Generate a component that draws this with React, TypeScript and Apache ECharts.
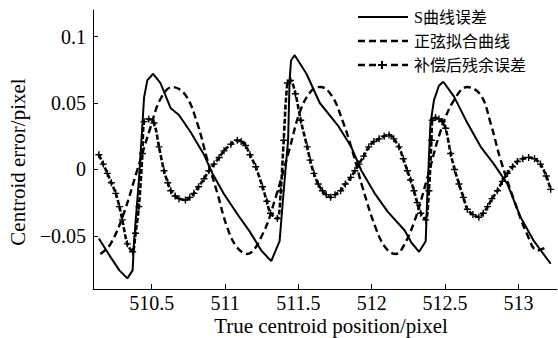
import React, { useEffect, useRef } from "react";
import * as echarts from "echarts";

const xTicks = [510.5, 511, 511.5, 512, 512.5, 513];
const yTicks = [-0.05, 0, 0.05, 0.1];
const legendNames = ["S曲线误差", "正弦拟合曲线", "补偿后残余误差"];

const sX = [510.14, 510.22, 510.28, 510.334, 510.37, 510.38, 510.413, 510.437, 510.448, 510.47, 510.51, 510.56, 510.63, 510.686, 510.766, 510.857, 510.914, 510.99, 511.08, 511.17, 511.247, 511.315, 511.372, 511.4, 511.43, 511.44, 511.45, 511.475, 511.555, 511.646, 511.77, 511.86, 511.93, 512.02, 512.11, 512.225, 512.27, 512.323, 512.368, 512.38, 512.4, 512.424, 512.458, 512.488, 512.56, 512.652, 512.743, 512.833, 512.925, 513.015, 513.106, 513.22];
const sY = [-0.052, -0.066, -0.076, -0.082, -0.076, -0.054, -0.008, 0.034, 0.054, 0.067, 0.072, 0.065, 0.046, 0.041, 0.028, 0.011, -0.003, -0.018, -0.033, -0.047, -0.061, -0.069, -0.054, -0.016, 0.022, 0.067, 0.082, 0.086, 0.072, 0.05, 0.033, 0.017, -0.001, -0.018, -0.032, -0.046, -0.055, -0.062, -0.054, -0.016, 0.034, 0.052, 0.063, 0.066, 0.055, 0.035, 0.017, 0.004, -0.011, -0.036, -0.054, -0.071];

const fX = [510.15, 510.22, 510.31, 510.4, 510.493, 510.56, 510.64, 510.73, 510.81, 510.88, 510.948, 511.016, 511.084, 511.15, 511.255, 511.345, 511.436, 511.516, 511.595, 511.652, 511.73, 511.8, 511.868, 511.936, 512.027, 512.095, 512.163, 512.2, 512.288, 512.38, 512.47, 512.56, 512.652, 512.743, 512.81, 512.879, 512.97, 513.06, 513.13, 513.2];
const fY = [-0.0636, -0.056, -0.033, -0.001, 0.032, 0.053, 0.062, 0.056, 0.035, 0.007, -0.018, -0.044, -0.059, -0.0636, -0.049, -0.021, 0.014, 0.045, 0.06, 0.062, 0.055, 0.037, 0.014, -0.013, -0.044, -0.059, -0.0636, -0.061, -0.04, -0.006, 0.029, 0.052, 0.062, 0.056, 0.035, 0.007, -0.023, -0.049, -0.061, -0.058];

const rX = [510.14, 510.17, 510.198, 510.225, 510.255, 510.28, 510.3, 510.334, 510.37, 510.39, 510.413, 510.437, 510.448, 510.48, 510.516, 510.55, 510.584, 510.61, 510.63, 510.66, 510.686, 510.73, 510.76, 510.788, 510.82, 510.857, 510.89, 510.925, 510.96, 510.993, 511.04, 511.084, 511.11, 511.14, 511.17, 511.209, 511.255, 511.285, 511.31, 511.357, 511.38, 511.4, 511.425, 511.447, 511.48, 511.516, 511.56, 511.58, 511.606, 511.635, 511.664, 511.69, 511.72, 511.75, 511.788, 511.82, 511.857, 511.885, 511.913, 511.945, 511.98, 512.015, 512.05, 512.085, 512.118, 512.15, 512.186, 512.215, 512.243, 512.265, 512.288, 512.31, 512.334, 512.368, 512.39, 512.407, 512.413, 512.435, 512.458, 512.48, 512.504, 512.538, 512.565, 512.595, 512.625, 512.652, 512.69, 512.73, 512.76, 512.79, 512.82, 512.857, 512.89, 512.925, 512.96, 512.993, 513.03, 513.07, 513.11, 513.15, 513.19, 513.22];
const rY = [0.011, 0.004, -0.003, -0.01, -0.018, -0.028, -0.038, -0.056, -0.062, -0.048, -0.028, 0.012, 0.036, 0.038, 0.035, 0.017, -0.001, -0.01, -0.016, -0.02, -0.022, -0.023, -0.021, -0.018, -0.013, -0.007, -0.001, 0.004, 0.009, 0.014, 0.019, 0.022, 0.021, 0.018, 0.011, 0.002, -0.013, -0.024, -0.033, -0.037, -0.016, 0.022, 0.065, 0.067, 0.057, 0.037, 0.017, 0.007, -0.003, -0.011, -0.016, -0.019, -0.021, -0.019, -0.016, -0.011, -0.006, -0.001, 0.004, 0.01, 0.017, 0.021, 0.023, 0.025, 0.026, 0.023, 0.017, 0.008, -0.001, -0.008, -0.016, -0.025, -0.033, -0.038, -0.016, 0.022, 0.037, 0.039, 0.038, 0.036, 0.031, 0.012, 0.0, -0.011, -0.021, -0.03, -0.034, -0.036, -0.033, -0.028, -0.022, -0.016, -0.009, -0.003, 0.002, 0.006, 0.008, 0.009, 0.008, 0.004, -0.005, -0.015];

const pair = (xs: number[], ys: number[]) => xs.map((x, i) => [x, ys[i]]);

const SERIF = "'Liberation Serif', 'Times New Roman', serif";
const CJK = "'Liberation Serif', 'Noto Sans CJK SC', serif";
const PLUS = "path://M4,0H6V4H10V6H6V10H4V6H0V4H4Z";

const legendRow = (y: number, kind: number, label: string) => {
  const els: any[] = [];
  if (kind === 0) {
    els.push({ type: "line", shape: { x1: 358, y1: y, x2: 408, y2: y }, style: { stroke: "#000", lineWidth: 2.2 } });
  } else {
    els.push({
      type: "line",
      shape: { x1: 358, y1: y, x2: 408, y2: y },
      style: { stroke: "#000", lineWidth: 2.4, lineDash: [7, 4] },
    });
  }
  if (kind === 2) {
    els.push({ type: "rect", shape: { x: 378, y: y - 3.5, width: 8, height: 7 }, style: { fill: "#fff" } });
    els.push({ type: "line", shape: { x1: 378, y1: y, x2: 386, y2: y }, style: { stroke: "#000", lineWidth: 2 } });
    els.push({ type: "line", shape: { x1: 382, y1: y - 4, x2: 382, y2: y + 4 }, style: { stroke: "#000", lineWidth: 2 } });
  }
  els.push({
    type: "text",
    x: 414,
    y,
    style: { text: label, fontSize: 16, fontFamily: CJK, fill: "#000", verticalAlign: "middle", align: "left" },
  });
  return els;
};

export default function App() {
  const ref = useRef<HTMLDivElement>(null);
  useEffect(() => {
    if (!ref.current) return;
    const chart = echarts.init(ref.current, undefined, { renderer: "svg" });
    chart.setOption({
      animation: false,
      backgroundColor: "#fff",
      textStyle: { fontFamily: SERIF },
      grid: { left: 93, right: 1, top: 10, bottom: 49, containLabel: false },
      xAxis: {
        type: "value",
        min: 510.1,
        max: 513.263,
        axisLine: { onZero: false, lineStyle: { color: "#000", width: 1 } },
        axisTick: { inside: true, length: 5, lineStyle: { color: "#000" }, customValues: xTicks },
        axisLabel: {
          customValues: xTicks,
          color: "#000",
          fontSize: 20,
          fontFamily: SERIF,
          margin: 4,
          formatter: (v: number) => String(v),
        },
        splitLine: { show: false },
      },
      yAxis: {
        type: "value",
        min: -0.09,
        max: 0.12,
        axisLine: { show: true, onZero: false, lineStyle: { color: "#000", width: 1 } },
        axisTick: { show: true, inside: true, length: 5, lineStyle: { color: "#000" }, customValues: yTicks },
        axisLabel: {
          customValues: yTicks,
          color: "#000",
          fontSize: 20,
          fontFamily: SERIF,
          margin: 7,
          formatter: (v: number) => (v < 0 ? "\u2212" + String(-v) : String(v)),
        },
        splitLine: { show: false },
      },
      graphic: [
        {
          type: "text",
          x: 331,
          y: 326,
          style: {
            text: "True centroid position/pixel",
            fontSize: 21,
            fontFamily: SERIF,
            fill: "#000",
            align: "center",
            verticalAlign: "middle",
          },
        },
        {
          type: "text",
          x: 18,
          y: 162,
          rotation: Math.PI / 2,
          style: {
            text: "Centroid error/pixel",
            fontSize: 21,
            fontFamily: SERIF,
            fill: "#000",
            align: "center",
            verticalAlign: "middle",
          },
        },
        ...legendRow(17, 0, legendNames[0]),
        ...legendRow(41, 1, legendNames[1]),
        ...legendRow(65, 2, legendNames[2]),
      ],
      series: [
        {
          name: legendNames[0],
          type: "line",
          data: pair(sX, sY),
          symbol: "none",
          lineStyle: { color: "#000", width: 2, type: "solid" },
          itemStyle: { color: "#000" },
        },
        {
          name: legendNames[1],
          type: "line",
          data: pair(fX, fY),
          symbol: "none",
          smooth: 0.4,
          lineStyle: { color: "#000", width: 2.4, type: [7, 4] },
          itemStyle: { color: "#000" },
        },
        {
          name: legendNames[2],
          type: "line",
          data: pair(rX, rY),
          symbol: PLUS,
          symbolSize: 7,
          smooth: 0.3,
          lineStyle: { color: "#000", width: 2.6, type: [5, 2] },
          itemStyle: { color: "#000" },
        },
      ],
    });
    return () => chart.dispose();
  }, []);
  return <div ref={ref} style={{ width: 558, height: 338, position: "absolute", left: 0, top: 0 }} />;
}
